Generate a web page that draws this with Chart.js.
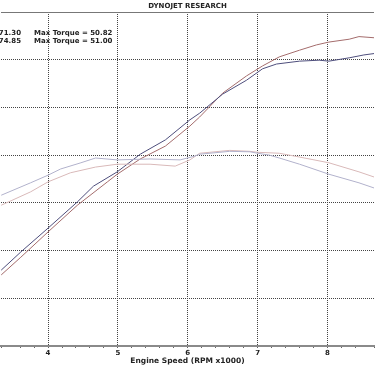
<!DOCTYPE html>
<html>
<head>
<meta charset="utf-8">
<script src="https://cdn.jsdelivr.net/npm/chart.js@4/dist/chart.umd.min.js"></script>
<style>
  html, body { margin: 0; padding: 0; background: #fff; }
  canvas { display: block; }
</style>
</head>
<body>
<canvas id="dyno" width="375" height="366"></canvas>
<script>
// run 1 (blue) - horsepower and torque, rpm x1000
var rpmHp1   = [3.33, 3.61, 4.00, 4.42, 4.65, 4.99, 5.32, 5.68, 6.03, 6.17, 6.50, 6.84, 7.07, 7.27, 7.60, 7.88, 8.02, 8.31, 8.52, 8.67]
var hp1      = [25.9, 29.7, 34.7, 40.2, 43.5, 46.5, 50.2, 53.2, 57.4, 58.8, 62.8, 65.7, 68.1, 69.1, 69.7, 69.9, 69.7, 70.4, 71.0, 71.3]
var rpmTq1   = [3.33, 3.75, 4.00, 4.18, 4.47, 4.68, 4.99, 5.46, 5.89, 6.10, 6.17, 6.60, 6.89, 7.00, 7.17, 7.31, 7.60, 8.02, 8.45, 8.67]
var tq1      = [41.6, 44.2, 45.8, 47.1, 48.4, 49.4, 49.0, 49.2, 49.0, 49.8, 50.2, 50.8, 50.7, 50.4, 50.0, 49.4, 48.1, 46.0, 44.2, 43.1]

// run 2 (red)
var rpmHp2   = [3.33, 3.61, 4.00, 4.42, 4.85, 4.99, 5.32, 5.68, 6.03, 6.17, 6.50, 6.84, 7.07, 7.31, 7.60, 7.84, 8.02, 8.31, 8.45, 8.67]
var hp2      = [24.9, 28.6, 33.9, 39.5, 44.4, 46.0, 49.2, 51.9, 56.1, 58.0, 63.0, 66.6, 68.7, 70.6, 72.0, 73.1, 73.7, 74.3, 74.85, 74.6]
var rpmTq2   = [3.33, 3.75, 4.00, 4.32, 4.68, 4.99, 5.46, 5.82, 6.03, 6.17, 6.60, 6.89, 7.00, 7.31, 7.60, 8.02, 8.45, 8.67]
var tq2      = [39.5, 42.3, 44.4, 46.3, 47.5, 48.1, 48.1, 47.7, 49.0, 50.4, 51.0, 50.8, 50.6, 50.4, 49.6, 48.4, 46.5, 45.4]

var maxPower  = ['71.30', '74.85']
var maxTorque = ['50.82', '51.00']

function pts(xs, ys){
  return xs.map(function(x, i){ return {x: x, y: ys[i]} })
}

function isMajor(v){
  return Math.abs(v - Math.round(v)) < 1e-6
}

var textFont = 'bold 7px "DejaVu Sans"'

var peakText = {
  id: 'peakText',
  afterDraw: function(chart){
    var ctx = chart.ctx
    ctx.save()
    ctx.font = textFont
    ctx.fillStyle = '#222'
    ctx.textBaseline = 'middle'
    for (var i = 0; i < maxPower.length; i++) {
      var y = 33 + i * 8
      ctx.textAlign = 'right'
      ctx.fillText('Max Power = ' + maxPower[i], 21, y)
      ctx.textAlign = 'left'
      ctx.fillText('Max Torque = ' + maxTorque[i], 34, y)
    }
    ctx.restore()
  }
}

var line = function(label, data, color){
  return {
    label: label,
    data: data,
    borderColor: color,
    borderWidth: 1,
    pointRadius: 0,
    tension: 0,
    fill: false
  }
}

new Chart(document.getElementById('dyno').getContext('2d'), {
  type: 'line',
  data: {
    datasets: [
      line('Torque run 1', pts(rpmTq1, tq1), '#b2b2cc'),
      line('Torque run 2', pts(rpmTq2, tq2), '#d9b9b9'),
      line('Power run 1', pts(rpmHp1, hp1), '#4e4e7c'),
      line('Power run 2', pts(rpmHp2, hp2), '#a46c6c')
    ]
  },
  plugins: [peakText],
  options: {
    responsive: false,
    animation: false,
    layout: { padding: 0 },
    plugins: {
      legend: { display: false },
      tooltip: { enabled: false },
      title: {
        display: true,
        text: 'DYNOJET RESEARCH',
        color: '#222',
        font: { family: 'DejaVu Sans', size: 7, weight: 'bold', lineHeight: 1.43 },
        padding: { top: 1, bottom: 1 }
      }
    },
    scales: {
      x: {
        type: 'linear',
        min: 3.327,
        max: 8.665,
        afterFit: function(s){ s.height = 20 },
        ticks: {
          stepSize: 0.2,
          autoSkip: false,
          maxRotation: 0,
          padding: 1,
          color: '#222',
          font: { family: 'DejaVu Sans', size: 7, weight: 'bold' },
          callback: function(v){ return isMajor(v) ? String(Math.round(v)) : '' }
        },
        grid: {
          color: function(c){ return c.tick && isMajor(c.tick.value) ? '#444' : 'rgba(0,0,0,0)' },
          tickColor: '#666',
          tickLength: 2,
          lineWidth: 1
        },
        border: { display: true, color: '#8a8a8a', width: 2, dash: [1, 1] },
        title: {
          display: true,
          text: 'Engine Speed (RPM x1000)',
          color: '#222',
          font: { family: 'DejaVu Sans', size: 7.5, weight: 'bold' },
          padding: { top: 0, bottom: 0 }
        }
      },
      y: {
        min: 10,
        max: 80,
        afterFit: function(s){ s.width = 0 },
        ticks: { display: false, stepSize: 10 },
        grid: {
          drawTicks: false,
          color: function(c){
            if (!c.tick) return 'rgba(0,0,0,0)'
            if (c.tick.value === 10) return 'rgba(0,0,0,0)'
            if (c.tick.value === 80) return '#777'
            return '#444'
          }
        },
        border: {
          display: false,
          dash: function(c){ return c.tick && c.tick.value === 80 ? [] : [1, 1] }
        }
      }
    }
  }
})
</script>
</body>
</html>
